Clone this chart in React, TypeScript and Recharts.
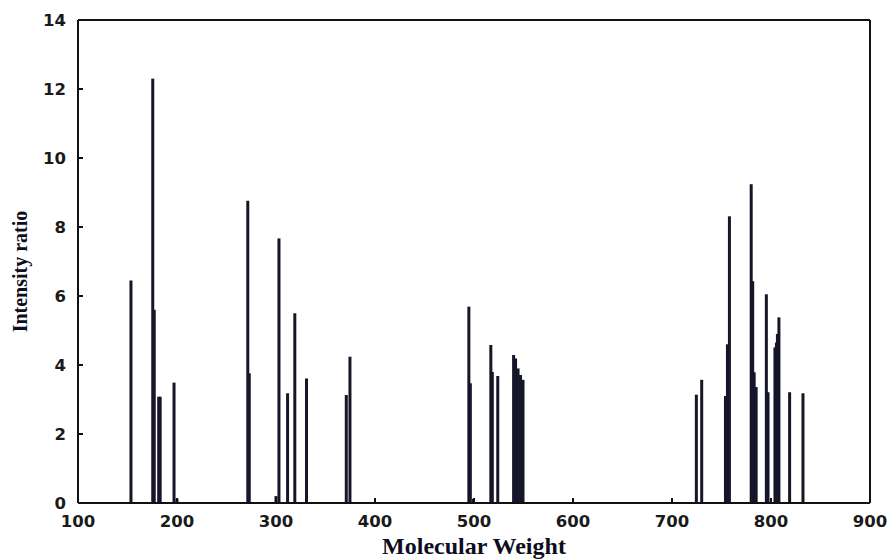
import { Bar, BarChart, Label, XAxis, YAxis } from "recharts";

// peak positions (molecular weight) and their intensity ratios
const weights = [
  153.5, 175.5, 177, 181.5, 183, 197, 200,
  271.5, 273, 300, 303, 311.7, 319, 330.8, 371, 374.7,
  494.8, 496.3, 499.5, 517, 518.5, 524, 540, 542, 544.5, 547, 549.5,
  724.6, 730, 754, 756, 758, 780, 781.5, 783, 785,
  795.3, 797, 804, 805.5, 806.5, 808, 818.8, 832.3,
];
const ratios = [
  6.45, 12.3, 5.6, 3.08, 3.08, 3.49, 0.12,
  8.76, 3.76, 0.2, 7.67, 3.18, 5.5, 3.61, 3.13, 4.24,
  5.69, 3.47, 0.12, 4.58, 3.8, 3.68, 4.29, 4.19, 3.9, 3.71, 3.57,
  3.14, 3.57, 3.1, 4.6, 8.31, 9.24, 6.43, 3.79, 3.36,
  6.05, 3.21, 4.51, 4.65, 4.9, 5.38, 3.21, 3.18,
];
const xTicks = [100, 200, 300, 400, 500, 600, 700, 800, 900];
const yTicks = [0, 2, 4, 6, 8, 10, 12, 14];

const data = weights.map((w, i) => ({ weight: w, ratio: ratios[i] }));

const tickFont = {
  fontFamily: "DejaVu Sans",
  fontWeight: 700,
  fontSize: 16.5,
  fill: "#1a1a1a",
};

// stick drawn at a fixed width, centred on the bar's own slot
function Stick(props: any) {
  const { x, y, width, height } = props;
  if (height == null || height <= 0) return null;
  const cx = x + width / 2;
  return <rect x={cx - 1.5} y={y} width={3} height={height} fill="#16162a" />;
}

export default function App() {
  return (
    <div style={{ position: "absolute", left: 0, top: 0, background: "#fff" }}>
      <BarChart
        width={891}
        height={559}
        data={data}
        margin={{ top: 19, right: 20, left: 0, bottom: 0 }}
      >
        <XAxis
          dataKey="weight"
          type="number"
          domain={[100, 900]}
          ticks={xTicks}
          height={56}
          tickSize={-5}
          tickMargin={17}
          tick={tickFont}
          stroke="#111"
          strokeWidth={2}
          allowDataOverflow
        >
          <Label
            value="Molecular Weight"
            position="insideBottom"
            offset={5}
            style={{
              fontFamily: "Liberation Serif",
              fontWeight: 700,
              fontSize: 24,
              fill: "#0d0d20",
            }}
          />
        </XAxis>
        <XAxis
          xAxisId="top"
          orientation="top"
          type="number"
          domain={[100, 900]}
          ticks={xTicks}
          height={1}
          tickSize={-5}
          tick={false}
          stroke="#111"
          strokeWidth={2}
          allowDataOverflow
        />
        <YAxis
          domain={[0, 14]}
          ticks={yTicks}
          width={78}
          tickSize={-5}
          tickMargin={17}
          tick={tickFont}
          stroke="#111"
          strokeWidth={2}
          allowDataOverflow
        >
          <Label
            value="Intensity ratio"
            angle={-90}
            position="insideLeft"
            offset={20}
            dy={10}
            style={{
              textAnchor: "middle",
              fontFamily: "Liberation Serif",
              fontWeight: 700,
              fontSize: 20,
              fill: "#0d0d20",
            }}
          />
        </YAxis>
        <YAxis
          yAxisId="right"
          orientation="right"
          domain={[0, 14]}
          ticks={yTicks}
          width={1}
          tickSize={-5}
          tick={false}
          stroke="#111"
          strokeWidth={2}
          allowDataOverflow
        />
        <Bar
          dataKey="ratio"
          fill="#16162a"
          shape={Stick}
          isAnimationActive={false}
        />
      </BarChart>
    </div>
  );
}
